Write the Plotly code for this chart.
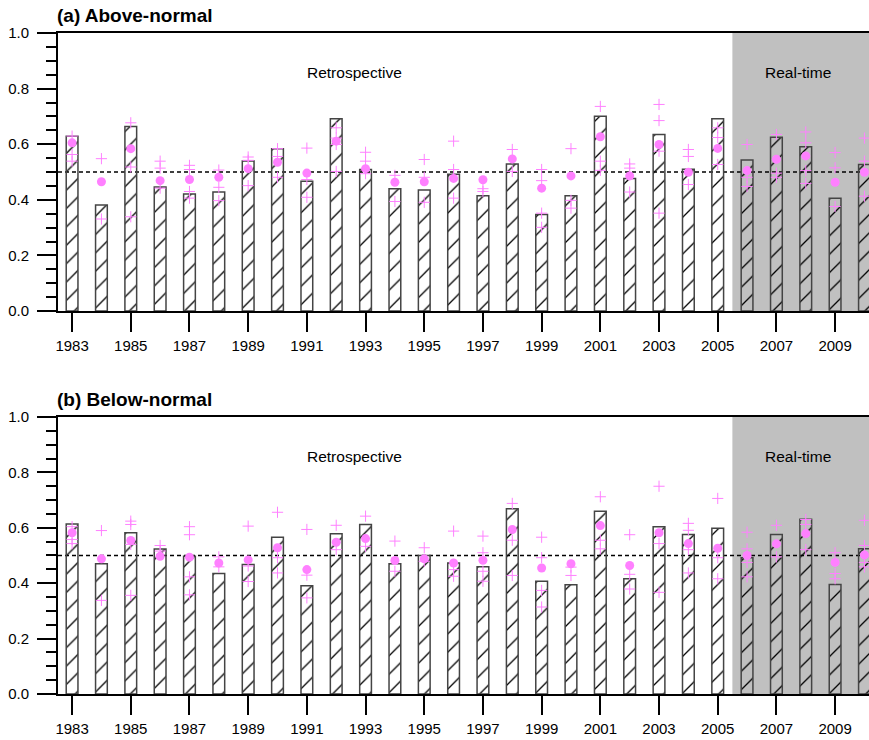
import plotly.graph_objects as go

years = list(range(1983, 2011))
odd_years = list(range(1983, 2011, 2))

above_bar = [0.629, 0.381, 0.664, 0.446, 0.421, 0.428, 0.540, 0.584, 0.467, 0.692,
             0.509, 0.440, 0.435, 0.492, 0.415, 0.529, 0.347, 0.415, 0.701, 0.477,
             0.635, 0.510, 0.692, 0.543, 0.625, 0.591, 0.406, 0.527]
above_mean = [0.605, 0.465, 0.584, 0.469, 0.473, 0.481, 0.512, 0.535, 0.496, 0.611,
              0.512, 0.463, 0.465, 0.477, 0.472, 0.547, 0.442, 0.486, 0.627, 0.486,
              0.599, 0.499, 0.585, 0.505, 0.546, 0.558, 0.463, 0.499]
above_models = [
    [0.629, 0.563, 0.539], [0.548, 0.331], [0.677, 0.518, 0.339],
    [0.539, 0.514, 0.442], [0.524, 0.509, 0.430, 0.406], [0.507, 0.445, 0.397],
    [0.554, 0.542, 0.451], [0.584, 0.556, 0.481], [0.586, 0.473, 0.409],
    [0.659, 0.622, 0.599, 0.502], [0.571, 0.539, 0.494], [0.488, 0.394],
    [0.545, 0.481, 0.391], [0.611, 0.509, 0.406], [0.440, 0.430],
    [0.581, 0.502], [0.509, 0.469, 0.352, 0.301], [0.584, 0.398, 0.370],
    [0.736, 0.539, 0.506], [0.529, 0.514, 0.428], [0.743, 0.685, 0.575, 0.352],
    [0.581, 0.556, 0.455], [0.659, 0.624, 0.527], [0.599, 0.481, 0.448],
    [0.635, 0.496, 0.481], [0.644, 0.605, 0.505, 0.459], [0.570, 0.515, 0.376],
    [0.622, 0.539, 0.413],
]

below_bar = [0.614, 0.470, 0.582, 0.523, 0.497, 0.435, 0.467, 0.566, 0.391, 0.578,
             0.612, 0.470, 0.500, 0.473, 0.459, 0.669, 0.407, 0.394, 0.660, 0.416,
             0.604, 0.576, 0.598, 0.492, 0.576, 0.631, 0.395, 0.524]
below_mean = [0.582, 0.488, 0.554, 0.497, 0.494, 0.473, 0.484, 0.528, 0.449, 0.548,
              0.561, 0.482, 0.488, 0.473, 0.483, 0.594, 0.455, 0.470, 0.608, 0.464,
              0.582, 0.543, 0.526, 0.500, 0.542, 0.579, 0.475, 0.502]
below_models = [
    [0.604, 0.558, 0.543], [0.590, 0.338], [0.624, 0.612, 0.540, 0.356],
    [0.536, 0.516], [0.604, 0.575, 0.423, 0.358], [0.495, 0.459],
    [0.606, 0.462, 0.406], [0.656, 0.492, 0.437], [0.594, 0.429, 0.347],
    [0.609, 0.521], [0.642, 0.533], [0.552, 0.443],
    [0.528, 0.479], [0.588, 0.449, 0.425], [0.570, 0.510, 0.443, 0.407],
    [0.688, 0.555, 0.428], [0.566, 0.492, 0.374, 0.314], [0.458, 0.428],
    [0.712, 0.555, 0.524], [0.575, 0.432, 0.379], [0.750, 0.543, 0.367],
    [0.616, 0.591, 0.521, 0.437], [0.706, 0.492, 0.416], [0.584, 0.524, 0.475, 0.423],
    [0.609, 0.495], [0.630, 0.612, 0.521], [0.510, 0.435, 0.416],
    [0.627, 0.536, 0.475, 0.459],
]

PINK = "#ff80ff"
FONT = "Liberation Sans, Arial, Helvetica, sans-serif"

fig = go.Figure()

panels = [
    ("x", "y", above_bar, above_mean, above_models),
    ("x2", "y2", below_bar, below_mean, below_models),
]

for xa, ya, bars, means, models in panels:
    fig.add_trace(go.Bar(
        x=years, y=bars, width=0.4, xaxis=xa, yaxis=ya,
        marker=dict(
            color="rgba(0,0,0,0)",
            line=dict(color="#444444", width=1.5),
            pattern=dict(shape="/", fgcolor="black", bgcolor="rgba(0,0,0,0)",
                         fillmode="replace", size=13, solidity=0.1),
        ),
        showlegend=False, hoverinfo="skip",
    ))
    mx, my = [], []
    for yr, vals in zip(years, models):
        for v in vals:
            mx.append(yr)
            my.append(v)
    fig.add_trace(go.Scatter(
        x=mx, y=my, mode="markers", xaxis=xa, yaxis=ya,
        marker=dict(symbol="cross-thin", size=8, line=dict(color=PINK, width=1)),
        showlegend=False, hoverinfo="skip",
    ))
    fig.add_trace(go.Scatter(
        x=years, y=means, mode="markers", xaxis=xa, yaxis=ya,
        marker=dict(symbol="circle", size=9, color=PINK, line=dict(width=0)),
        showlegend=False, hoverinfo="skip",
    ))

xrange = [1982.52, 2010.155]
common_x = dict(
    range=xrange, tickmode="array", tickvals=odd_years,
    ticktext=[str(y) for y in odd_years],
    ticks="outside", ticklen=19, tickwidth=2, tickcolor="black",
    showline=True, linewidth=2, linecolor="black", mirror=True,
    showgrid=False, zeroline=False,
    tickfont=dict(family=FONT, size=15, color="black"),
    ticklabelstandoff=1,
)
common_y = dict(
    range=[0, 1], tickmode="linear", tick0=0, dtick=0.2, tickformat=".1f",
    ticks="outside", ticklen=19, tickwidth=2, tickcolor="black",
    minor=dict(ticks="outside", dtick=0.05, ticklen=10, tickwidth=1.5, tickcolor="black"),
    showline=True, linewidth=2, linecolor="black",
    showgrid=False, zeroline=False,
    tickfont=dict(family=FONT, size=15, color="black"),
    ticklabelstandoff=5,
)

fig.update_layout(
    width=869, height=740,
    margin=dict(l=58, r=0, t=33, b=46),
    plot_bgcolor="white", paper_bgcolor="white",
    barmode="overlay",
    xaxis=dict(domain=[0, 1], anchor="y", **common_x),
    yaxis=dict(domain=[0.5794, 1], anchor="x", **common_y),
    xaxis2=dict(domain=[0, 1], anchor="y2", **common_x),
    yaxis2=dict(domain=[0, 0.4191], anchor="x2", **common_y),
)

for xa, ya in [("x", "y"), ("x2", "y2")]:
    fig.add_shape(type="rect", xref=xa, yref=ya + " domain", x0=2005.5, x1=2011,
                  y0=0, y1=1, fillcolor="#c0c0c0", line=dict(width=0), layer="below")
    fig.add_shape(type="line", xref=xa + " domain", yref=ya, x0=0, x1=1, y0=0.5, y1=0.5,
                  line=dict(color="black", width=1.3, dash="4px,3px"), layer="below")
    fig.add_annotation(x=1992.64, y=0.857, xref=xa, yref=ya, text="Retrospective",
                       showarrow=False, font=dict(family=FONT, size=15.5, color="black"))
    fig.add_annotation(x=2007.74, y=0.857, xref=xa, yref=ya, text="Real-time",
                       showarrow=False, font=dict(family=FONT, size=15.5, color="black"))

fig.add_annotation(x=-0.004, y=1.0272, xref="paper", yref="paper", xanchor="left",
                   yanchor="middle", text="<b>(a) Above-normal</b>", showarrow=False,
                   font=dict(family=FONT, size=19, color="black"))
fig.add_annotation(x=-0.004, y=0.4448, xref="paper", yref="paper", xanchor="left",
                   yanchor="middle", text="<b>(b) Below-normal</b>", showarrow=False,
                   font=dict(family=FONT, size=19, color="black"))

fig.write_html("out.html")
